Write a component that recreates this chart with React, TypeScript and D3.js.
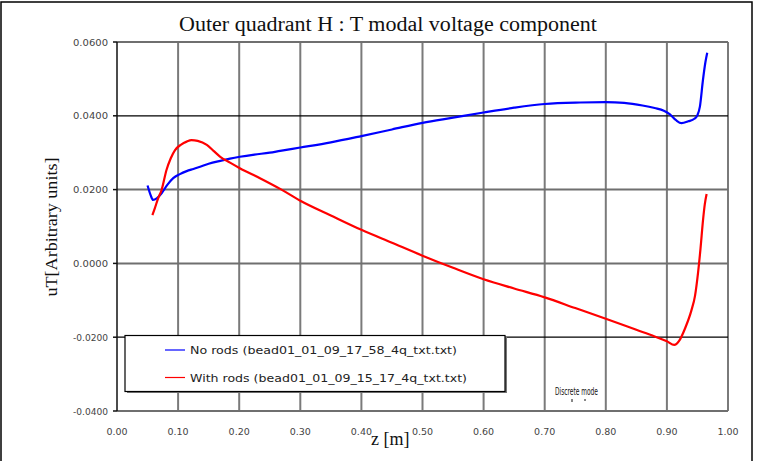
import React from "react";
import * as d3 from "d3";

const zNoRods = [0.050, 0.055, 0.059, 0.065, 0.073, 0.082, 0.092, 0.103, 0.114, 0.125, 0.136, 0.150, 0.169, 0.185, 0.201, 0.225, 0.250, 0.267, 0.300, 0.350, 0.400, 0.450, 0.500, 0.550, 0.600, 0.650, 0.700, 0.758, 0.800, 0.830, 0.860, 0.880, 0.895, 0.905, 0.915, 0.924, 0.935, 0.945, 0.950, 0.954, 0.959, 0.963, 0.966];
const vNoRods = [0.0211, 0.0185, 0.0172, 0.0176, 0.0190, 0.0212, 0.0231, 0.0242, 0.0250, 0.0256, 0.0262, 0.0270, 0.0278, 0.0284, 0.0289, 0.0295, 0.0300, 0.0305, 0.0314, 0.0328, 0.0345, 0.0363, 0.0381, 0.0395, 0.0409, 0.0422, 0.0432, 0.0436, 0.0437, 0.0435, 0.0428, 0.0421, 0.0414, 0.0404, 0.0388, 0.0380, 0.0385, 0.0392, 0.0402, 0.0425, 0.0497, 0.0545, 0.0571];

const zWithRods = [0.058, 0.062, 0.067, 0.073, 0.081, 0.088, 0.095, 0.105, 0.114, 0.122, 0.132, 0.147, 0.158, 0.169, 0.185, 0.201, 0.234, 0.267, 0.300, 0.350, 0.400, 0.450, 0.500, 0.550, 0.600, 0.650, 0.700, 0.750, 0.800, 0.850, 0.880, 0.900, 0.912, 0.920, 0.930, 0.940, 0.946, 0.951, 0.955, 0.959, 0.962, 0.965];
const vWithRods = [0.0131, 0.0150, 0.0175, 0.0199, 0.0253, 0.0285, 0.0307, 0.0322, 0.0330, 0.0334, 0.0332, 0.0321, 0.0305, 0.0289, 0.0273, 0.0258, 0.0231, 0.0202, 0.0170, 0.0130, 0.0091, 0.0056, 0.0021, -0.0012, -0.0043, -0.0068, -0.0092, -0.0121, -0.0150, -0.0180, -0.0198, -0.0211, -0.0221, -0.0210, -0.0175, -0.0128, -0.0088, -0.0025, 0.0040, 0.0115, 0.0160, 0.0188];

const xTicks = [0, 0.1, 0.2, 0.3, 0.4, 0.5, 0.6, 0.7, 0.8, 0.9, 1.0];
const yTicks = [-0.04, -0.02, 0, 0.02, 0.04, 0.06];
const blackGridY = [0.04, -0.02];

const seriesNames = [
  "No rods (bead01_01_09_17_58_4q_txt.txt)",
  "With rods (bead01_01_09_15_17_4q_txt.txt)",
];
const seriesColors = ["#0000ff", "#ff0000"];

export default function App() {
  const x = d3.scaleLinear().domain([0, 1]).range([117, 728]);
  const y = d3.scaleLinear().domain([-0.04, 0.06]).range([411, 42]);
  const line = d3
    .line<[number, number]>()
    .x((d) => x(d[0]))
    .y((d) => y(d[1]))
    .curve(d3.curveMonotoneX);
  const blueData = zNoRods.map((z, i) => [z, vNoRods[i]] as [number, number]);
  const redData = zWithRods.map((z, i) => [z, vWithRods[i]] as [number, number]);
  const tickFont = "'DejaVu Sans', sans-serif";

  return (
    <div style={{ position: "absolute", left: 0, top: 0 }}>
      <svg width={759} height={461} style={{ display: "block", background: "#fff" }}>
        <rect x={1} y={2} width={751} height={480} fill="#fff" stroke="#000" strokeWidth={1.5} />
        <text x={388} y={31} textAnchor="middle" fontFamily="'Liberation Serif', serif" fontSize={20} textLength={418} lengthAdjust="spacingAndGlyphs" fill="#111">
          Outer quadrant H : T modal voltage component
        </text>
        <rect x={x(0)} y={y(0.06)} width={x(1) - x(0)} height={y(-0.04) - y(0.06)} fill="#fff" />
        {xTicks.map((t) => (
          <line key={"vx" + t} x1={x(t)} x2={x(t)} y1={y(0.06)} y2={y(-0.04)} stroke="#7a7a7a" strokeWidth={t === 0 ? 0 : 2} />
        ))}
        {yTicks.map((t) => (
          <line
            key={"hy" + t}
            x1={x(0)}
            x2={x(1)}
            y1={y(t)}
            y2={y(t)}
            stroke={blackGridY.includes(t) ? "#000" : "#6f6f6f"}
            strokeWidth={blackGridY.includes(t) ? 1.2 : 2}
          />
        ))}
        <line x1={x(0)} x2={x(0)} y1={y(0.06)} y2={y(-0.04)} stroke="#111" strokeWidth={1.5} />
        {yTicks.map((t) => (
          <g key={"yt" + t}>
            <line x1={x(0) - 4} x2={x(0)} y1={y(t)} y2={y(t)} stroke="#111" strokeWidth={1.5} />
            <text x={108} y={y(t) + 3.5} textAnchor="end" fontFamily={tickFont} fontSize={9.5} fill="#444" textLength={35} lengthAdjust="spacingAndGlyphs">
              {t.toFixed(4)}
            </text>
          </g>
        ))}
        {xTicks.map((t) => (
          <text key={"xt" + t} x={x(t)} y={435} textAnchor="middle" fontFamily={tickFont} fontSize={9.5} fill="#444">
            {t.toFixed(2)}
          </text>
        ))}
        <text x={371} y={445} fontFamily="'Liberation Serif', serif" fontSize={18} fill="#111">
          z [m]
        </text>
        <text
          transform={`translate(57, 227) rotate(-90)`}
          textAnchor="middle"
          fontFamily="'Liberation Serif', serif"
          fontSize={16}
          fill="#111"
          textLength={139}
          lengthAdjust="spacingAndGlyphs"
        >
          uT[Arbitrary units]
        </text>
        <path d={line(blueData) || ""} fill="none" stroke={seriesColors[0]} strokeWidth={2.2} strokeLinejoin="round" />
        <path d={line(redData) || ""} fill="none" stroke={seriesColors[1]} strokeWidth={2.2} strokeLinejoin="round" />
        <rect x={127} y={337} width={380} height={56} fill="#777" />
        <rect x={125} y={335.5} width={380} height={56} fill="#fff" stroke="#000" strokeWidth={1.2} />
        {seriesNames.map((n, i) => (
          <g key={n}>
            <line x1={165} x2={185} y1={350 + i * 27.5} y2={350 + i * 27.5} stroke={seriesColors[i]} strokeWidth={1.2} />
            <text x={190} y={354 + i * 27.5} fontFamily={tickFont} fontSize={10.5} fill="#222" textLength={i === 0 ? 267 : 277} lengthAdjust="spacingAndGlyphs">
              {n}
            </text>
          </g>
        ))}
        <text x={555} y={395} fontFamily={tickFont} fontSize={10} fill="#111" textLength={43} lengthAdjust="spacingAndGlyphs">
          Discrete mode
        </text>
        <line x1={572} x2={572} y1={399} y2={402} stroke="#111" strokeWidth={1} />
        <line x1={585} x2={585} y1={399} y2={401} stroke="#111" strokeWidth={1} />
      </svg>
    </div>
  );
}
